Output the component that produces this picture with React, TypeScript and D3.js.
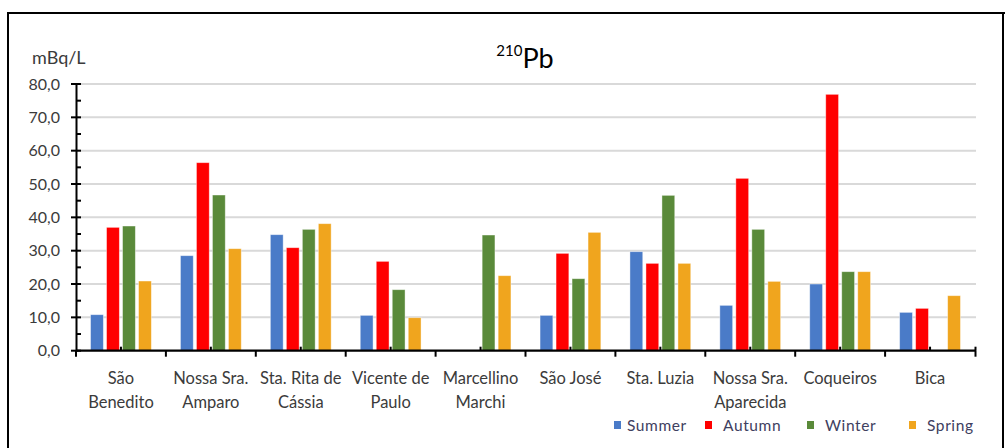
import React from "react";
import * as d3 from "d3";

const categories: string[][] = [
  ["São", "Benedito"],
  ["Nossa Sra.", "Amparo"],
  ["Sta. Rita de", "Cássia"],
  ["Vicente de", "Paulo"],
  ["Marcellino", "Marchi"],
  ["São José"],
  ["Sta. Luzia"],
  ["Nossa Sra.", "Aparecida"],
  ["Coqueiros"],
  ["Bica"],
];
const seriesNames = ["Summer", "Autumn", "Winter", "Spring"];
const summer: (number | null)[] = [10.8, 28.5, 34.8, 10.6, null, 10.6, 29.7, 13.6, 20.0, 11.5];
const autumn: (number | null)[] = [37.0, 56.4, 30.9, 26.8, null, 29.2, 26.2, 51.7, 76.9, 12.7];
const winter: (number | null)[] = [37.4, 46.7, 36.4, 18.3, 34.7, 21.6, 46.6, 36.4, 23.7, null];
const spring: (number | null)[] = [20.9, 30.6, 38.1, 9.9, 22.5, 35.5, 26.2, 20.8, 23.7, 16.5];
const yTicks = [0, 10, 20, 30, 40, 50, 60, 70, 80];
const colors = ["#4A7BC8", "#FF0000", "#5A8A3A", "#F0A51E"];

const W = 1005;
const H = 448;
const FONT = "Lato, 'Open Sans', sans-serif";

export default function App() {
  const allSeries = [summer, autumn, winter, spring];
  const x = d3
    .scaleBand<number>()
    .domain(categories.map((_, i) => i))
    .range([76, 975])
    .padding(0);
  const y = d3.scaleLinear().domain([0, 80]).range([350.7, 84]);
  const inner = d3
    .scaleBand<number>()
    .domain([0, 1, 2, 3])
    .range([-32, 32])
    .paddingInner(0.2)
    .paddingOuter(0.1);
  const minorTicks = d3.range(5, 80, 10);
  const textColor = "#3b3b3b";
  const legendX = [614, 705, 807, 909];

  return (
    <svg
      width={W}
      height={H}
      style={{ position: "absolute", left: 0, top: 0, display: "block", background: "#fff" }}
      fontFamily={FONT}
    >
      {/* frame */}
      <line x1={8} y1={13} x2={1005} y2={13} stroke="#000" strokeWidth={2.2} />
      <line x1={8} y1={12} x2={8} y2={448} stroke="#000" strokeWidth={2} />
      <line x1={1003} y1={12} x2={1003} y2={448} stroke="#000" strokeWidth={2} />

      {/* gridlines */}
      {yTicks.slice(1).map((t) => (
        <line key={t} x1={76} x2={976} y1={y(t)} y2={y(t)} stroke="#d9d9d9" strokeWidth={2} />
      ))}

      {/* bars */}
      {allSeries.map((s, si) =>
        s.map((v, ci) =>
          v == null ? null : (
            <rect
              key={`${si}-${ci}`}
              x={(x(ci) as number) + x.bandwidth() / 2 + (inner(si) as number)}
              width={inner.bandwidth()}
              y={y(v)}
              height={y(0) - y(v)}
              fill={colors[si]}
              stroke="#ffffff"
              strokeOpacity={0.5}
              strokeWidth={0.8}
            />
          )
        )
      )}

      {/* y axis */}
      <line x1={76.5} x2={76.5} y1={y(80)} y2={y(0) + 1} stroke="#000" strokeWidth={2} />
      {yTicks.map((t) => (
        <g key={t}>
          <line x1={71} x2={81} y1={y(t)} y2={y(t)} stroke="#000" strokeWidth={2} />
          <text
            x={60}
            y={y(t)}
            dy="0.35em"
            textAnchor="end"
            fontSize={16}
            fill={textColor}
          >
            {d3.format(".1f")(t).replace(".", ",")}
          </text>
        </g>
      ))}
      {minorTicks.map((t) => (
        <line key={t} x1={76} x2={81} y1={y(t)} y2={y(t)} stroke="#000" strokeWidth={2} />
      ))}

      {/* x axis */}
      <line x1={76} x2={976} y1={y(0)} y2={y(0)} stroke="#000" strokeWidth={2.2} />
      {d3.range(0, categories.length + 1).map((i) => {
        const px = i < categories.length ? (x(i) as number) : 975.5;
        return <line key={i} x1={px} x2={px} y1={y(0)} y2={y(0) + 6} stroke="#000" strokeWidth={2} />;
      })}
      <line x1={975.5} x2={975.5} y1={y(0) - 4} y2={y(0)} stroke="#000" strokeWidth={2} />
      {categories.map((_, i) => {
        const cx = (x(i) as number) + x.bandwidth() / 2;
        return <line key={i} x1={cx} x2={cx} y1={y(0) - 4} y2={y(0)} stroke="#000" strokeWidth={2} />;
      })}
      {categories.map((lines, i) => {
        const cx = (x(i) as number) + x.bandwidth() / 2;
        return (
          <text key={i} x={cx} textAnchor="middle" fontSize={16.5} fill={textColor}>
            {lines.map((l, li) => (
              <tspan key={li} x={cx} y={384 + li * 24}>
                {l}
              </tspan>
            ))}
          </text>
        );
      })}

      {/* unit label */}
      <text x={32} y={64} fontSize={18} fill={textColor}>
        mBq/L
      </text>

      {/* title */}
      <text x={525} y={68} textAnchor="middle" fill="#000">
        <tspan fontSize={15} dy={-12}>210</tspan>
        <tspan fontSize={27} dy={12}>Pb</tspan>
      </text>

      {/* legend */}
      {seriesNames.map((n, i) => (
        <g key={n}>
          <rect x={legendX[i]} y={421} width={7} height={8} fill={colors[i]} />
          <text
            x={legendX[i] + (i === 0 ? 13 : 18)}
            y={431}
            fontSize={15.5}
            letterSpacing={0.6}
            fill="#404060"
          >
            {n}
          </text>
        </g>
      ))}
    </svg>
  );
}
